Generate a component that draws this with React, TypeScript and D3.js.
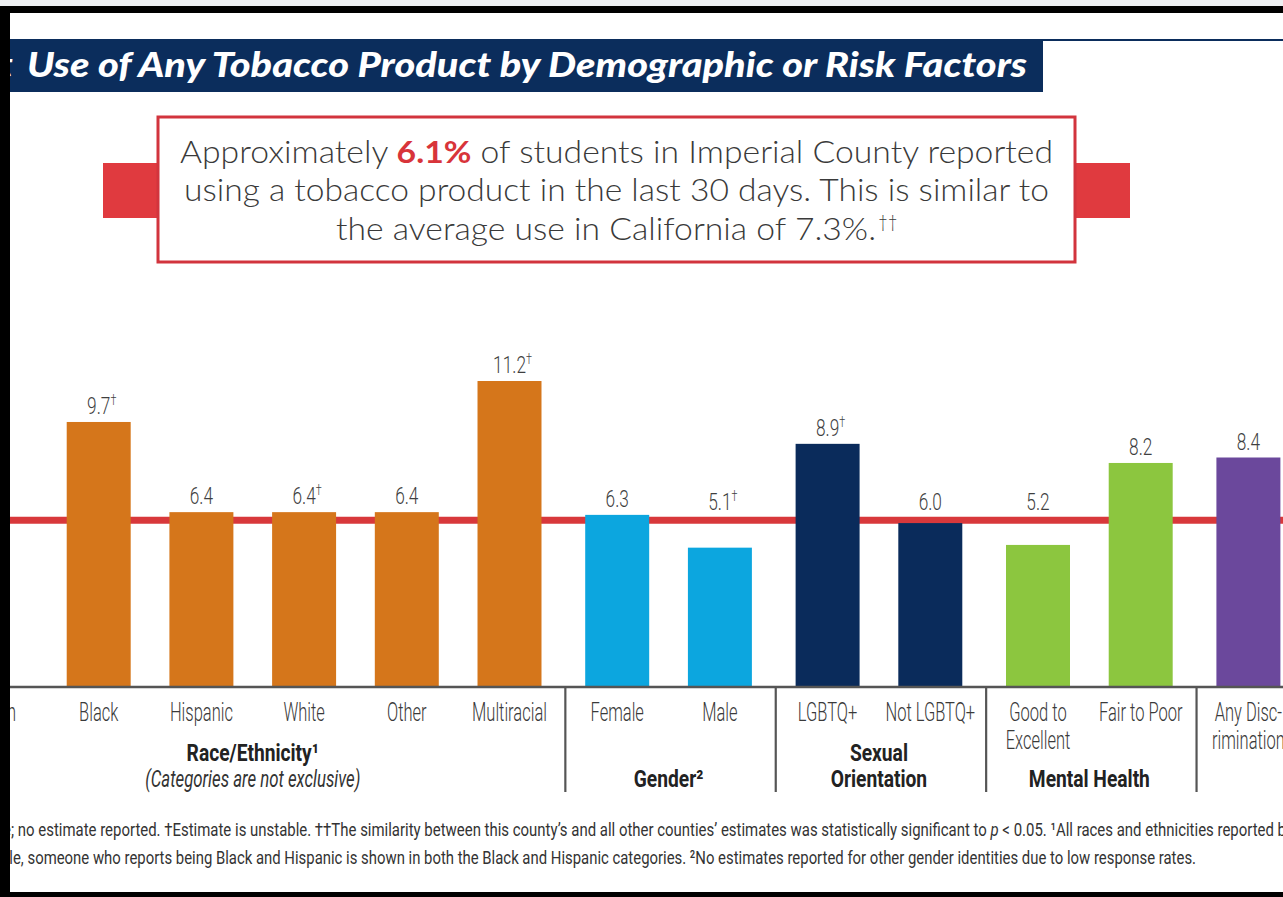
import React from "react";
import * as d3 from "d3";

// ---------- data ----------
const categories = [
  "Asian", "Black", "Hispanic", "White", "Other", "Multiracial",
  "Female", "Male", "LGBTQ+", "Not LGBTQ+",
  "Good to Excellent", "Fair to Poor", "Any Discrimination",
];
const categoryLines = [
  ["Asian"], ["Black"], ["Hispanic"], ["White"], ["Other"], ["Multiracial"],
  ["Female"], ["Male"], ["LGBTQ+"], ["Not LGBTQ+"],
  ["Good to", "Excellent"], ["Fair to Poor"], ["Any Disc-", "rimination"],
];
const values: (number | null)[] = [null, 9.7, 6.4, 6.4, 6.4, 11.2, 6.3, 5.1, 8.9, 6.0, 5.2, 8.2, 8.4];
const unstable = [false, true, false, true, false, true, false, true, true, false, false, false, false];
const groupOf = [0, 0, 0, 0, 0, 0, 1, 1, 2, 2, 3, 3, 4];
const groupColors = ["#d5761b", "#0ca6df", "#0a2b5b", "#8cc63f", "#6b489c"];
const groupTitleRow1 = ["Race/Ethnicity¹", "", "Sexual", "", ""];
const groupTitleRow2 = ["(Categories are not exclusive)", "Gender²", "Orientation", "Mental Health", ""];
const countyRate = 6.1;

const titleText = "Use of Any Tobacco Product by Demographic or Risk Factors";
const calloutPre = "Approximately ";
const calloutRate = "6.1%";
const calloutLine1Post = " of students in Imperial County reported";
const calloutLine2 = "using a tobacco product in the last 30 days. This is similar to";
const calloutLine3 = "the average use in California of 7.3%.";
const footnote1a = "e; no estimate reported. †Estimate is unstable. ††The similarity between this county’s and all other counties’ estimates was statistically significant to ";
const footnote1b = " < 0.05. ¹All races and ethnicities reported by";
const footnote2 = "ple, someone who reports being Black and Hispanic is shown in both the Black and Hispanic categories. ²No estimates reported for other gender identities due to low response rates.";

// ---------- layout ----------
const W = 1283;
const H = 897;
const baseY = 687;
const step = 102.7;
const groupGap = 5;
const x0 = -55.35;
const cond = "Roboto, 'Liberation Sans', sans-serif";

export default function App() {
  const x = d3
    .scaleBand<string>()
    .domain(categories)
    .range([x0, x0 + step * categories.length])
    .paddingInner(0.377)
    .paddingOuter(0.1885);
  const y = d3.scaleLinear().domain([0, 11.2]).range([baseY, 381]);
  const bw = x.bandwidth();
  const cx = (i: number) => (x(categories[i]) as number) + bw / 2 + groupOf[i] * groupGap;
  const labelY = (v: number) => Math.min(y(v) - 8, y(countyRate) - 10);

  const groupIdx = d3.groups(categories.map((c, i) => i), (i) => groupOf[i]);
  const separators: number[] = [];
  for (let i = 1; i < categories.length; i++) {
    if (groupOf[i] !== groupOf[i - 1]) separators.push((cx(i) + cx(i - 1)) / 2 + 2);
  }

  return (
    <svg
      width={W}
      height={H}
      viewBox={`0 0 ${W} ${H}`}
      style={{ position: "absolute", left: 0, top: 0, background: "#fff" }}
    >
      <rect x={0} y={0} width={W} height={H} fill="#ffffff" />
      {/* title bar */}
      <line x1={1043} x2={W} y1={40} y2={40} stroke="#0b2d5c" strokeWidth={2} />
      <rect x={10} y={39} width={1033} height={53} fill="#0b2d5c" />
      <text x={0} y={77} fill="#fff" fontFamily="Lato, 'Open Sans', sans-serif" fontWeight={900} fontStyle="italic" fontSize={34}>t</text>
      <text
        x={27}
        y={77}
        fill="#fff"
        fontFamily="Lato, 'Open Sans', sans-serif"
        fontWeight={900}
        fontStyle="italic"
        fontSize={34}
        textLength={1000}
        lengthAdjust="spacingAndGlyphs"
      >
        {titleText}
      </text>

      {/* callout */}
      <rect x={103} y={163} width={55} height={55} fill="#e03a3f" />
      <rect x={1075} y={163} width={55} height={55} fill="#e03a3f" />
      <rect x={158} y={117} width={917} height={145} fill="#fff" stroke="#d2343d" strokeWidth={3} />
      <g fontFamily="Lato, 'Open Sans', sans-serif" fontWeight={300} fontSize={31} fill="#3a3a3a">
        <text x={180} y={163} textLength={873} lengthAdjust="spacingAndGlyphs">
          {calloutPre}
          <tspan fill="#d8343a" fontWeight={700}>{calloutRate}</tspan>
          {calloutLine1Post}
        </text>
        <text x={184} y={201} textLength={865} lengthAdjust="spacingAndGlyphs">
          {calloutLine2}
        </text>
        <text x={336} y={240} textLength={540} lengthAdjust="spacingAndGlyphs">
          {calloutLine3}
        </text>
        <text x={878} y={228} fontSize={17}>††</text>
      </g>

      {/* county reference line */}
      <line x1={10} x2={W} y1={y(countyRate)} y2={y(countyRate)} stroke="#d8383b" strokeWidth={7} />

      {/* bars */}
      {categories.map((c, i) =>
        values[i] == null ? null : (
          <rect
            key={c}
            x={cx(i) - bw / 2}
            y={y(values[i] as number)}
            width={bw}
            height={baseY - y(values[i] as number)}
            fill={groupColors[groupOf[i]]}
          />
        )
      )}

      {/* value labels */}
      {categories.map((c, i) =>
        values[i] == null ? null : (
          <text
            key={"v" + c}
            transform={`translate(${cx(i) + (unstable[i] ? 3 : 0)},${labelY(values[i] as number)}) scale(0.72,1)`}
            textAnchor="middle"
            fontFamily={cond}
            fontWeight={300}
            fontSize={24}
            fill="#3f3f3f"
          >
            {(values[i] as number).toFixed(1)}
            {unstable[i] ? (
              <tspan fontSize={15} dy={-9}>†</tspan>
            ) : null}
          </text>
        )
      )}

      {/* axis baseline */}
      <line x1={10} x2={W} y1={baseY} y2={baseY} stroke="#555" strokeWidth={2.5} />
      {separators.map((sx, k) => (
        <line key={"s" + k} x1={sx} x2={sx} y1={baseY} y2={792} stroke="#555" strokeWidth={2.2} />
      ))}

      {/* category labels */}
      {categories.map((c, i) =>
        categoryLines[i].map((ln, j) => (
          <text
            key={"c" + c + j}
            transform={`translate(${cx(i)},${721 + j * 28}) scale(0.66,1)`}
            textAnchor="middle"
            fontFamily={cond}
            fontWeight={300}
            fontSize={25}
            fill="#3a3a3a"
          >
            {ln}
          </text>
        ))
      )}

      {/* group labels */}
      {groupIdx.map(([g, idx]) => {
        const mid = (cx(idx[0]) + cx(idx[idx.length - 1])) / 2;
        const italic2 = g === 0;
        return (
          <g key={"g" + g}>
            {groupTitleRow1[g] ? (
              <text
                transform={`translate(${mid},${761}) scale(0.8,1)`}
                textAnchor="middle"
                fontFamily={cond}
                fontWeight={700}
                fontSize={24}
                fill="#222"
              >
                {groupTitleRow1[g]}
              </text>
            ) : null}
            {groupTitleRow2[g] ? (
              <text
                transform={`translate(${mid},${787}) scale(${italic2 ? 0.7 : 0.8},1)`}
                textAnchor="middle"
                fontFamily={cond}
                fontWeight={italic2 ? 400 : 700}
                fontStyle={italic2 ? "italic" : "normal"}
                fontSize={24}
                fill={italic2 ? "#333" : "#222"}
              >
                {groupTitleRow2[g]}
              </text>
            ) : null}
          </g>
        );
      })}

      {/* footnotes */}
      <g fontFamily={cond} fontSize={19} fill="#333">
        <text x={3} y={836} textLength={1290} lengthAdjust="spacingAndGlyphs">
          {footnote1a}
          <tspan fontStyle="italic">p</tspan>
          {footnote1b}
        </text>
        <text x={1} y={864} textLength={1195} lengthAdjust="spacingAndGlyphs">
          {footnote2}
        </text>
      </g>

      {/* frame */}
      <rect x={0} y={0} width={W} height={6} fill="#eef0f2" />
      <rect x={0} y={6} width={W} height={7} fill="#000" />
      <rect x={0} y={6} width={10} height={H - 6} fill="#000" />
      <rect x={0} y={892} width={W} height={5} fill="#000" />
    </svg>
  );
}
